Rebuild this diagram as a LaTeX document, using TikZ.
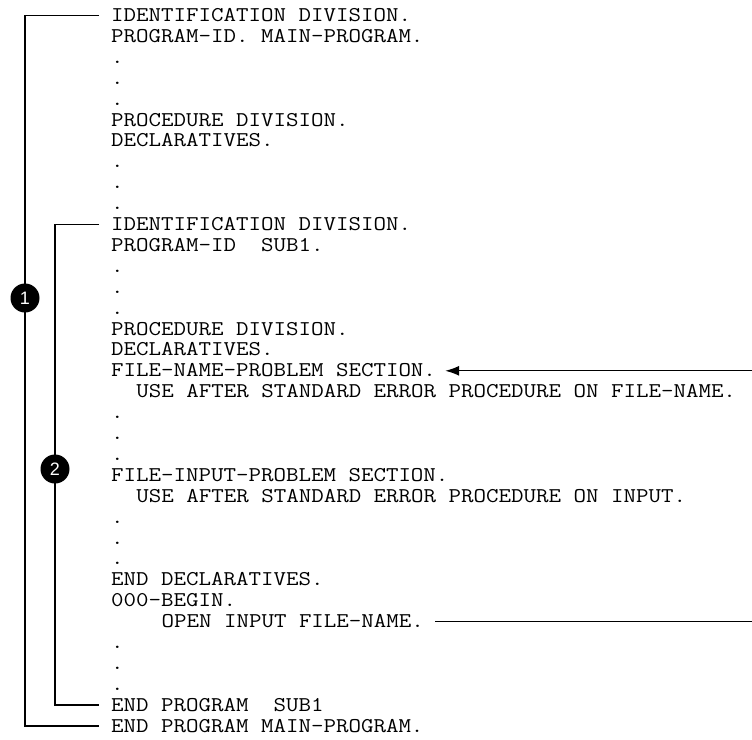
\documentclass[tikz,border=0pt]{standalone}
\usepackage{fontspec}
\newfontfamily\codefont{Latin Modern Mono}[FakeStretch=1.155]
\newfontfamily\markfont{Liberation Sans}
\usetikzlibrary{arrows.meta,positioning}

\begin{document}
\begin{tikzpicture}[
						x=1pt,
						y=-1pt,
						codeline/.style={anchor=west, inner sep=0pt, text height=12pt, text depth=0pt, font=\codefont\fontsize{21}{21}\selectfont},
						bracket/.style={line width=1.7pt},
						pointer/.style={line width=1.3pt},
						marker/.style={circle, fill=black, text=white, minimum size=29pt, inner sep=0pt, font=\markfont\fontsize{18}{18}\selectfont}
					]
					\useasboundingbox (0,0) rectangle (752,739);
					\coordinate (rim) at (752,0);
					\foreach \ind/\txt [count=\i] in {
							0/IDENTIFICATION DIVISION.,
							0/PROGRAM-ID. MAIN-PROGRAM.,
							0/., 0/., 0/.,
							0/PROCEDURE DIVISION.,
							0/DECLARATIVES.,
							0/., 0/., 0/.,
							0/IDENTIFICATION DIVISION.,
							0/PROGRAM-ID\ \ SUB1.,
							0/., 0/., 0/.,
							0/PROCEDURE DIVISION.,
							0/DECLARATIVES.,
							0/FILE-NAME-PROBLEM SECTION.,
							2/USE AFTER STANDARD ERROR PROCEDURE ON FILE-NAME.,
							0/., 0/., 0/.,
							0/FILE-INPUT-PROBLEM SECTION.,
							2/USE AFTER STANDARD ERROR PROCEDURE ON INPUT.,
							0/., 0/., 0/.,
							0/END DECLARATIVES.,
							0/000-BEGIN.,
							4/OPEN INPUT FILE-NAME.,
							0/., 0/., 0/.,
							0/END PROGRAM\ \ SUB1,
							0/END PROGRAM MAIN-PROGRAM.}
						\node[codeline] (l\i) at (111+12.6*\ind, 15.5+20.9*\i-20.9) {\txt};
					\draw[bracket] (l1.west) ++(-12,0) -- ++(-74,0) |- ([xshift=-12pt]l35.west);
					\draw[bracket] (l11.west) ++(-12,0) -- ++(-44,0) |- ([xshift=-12pt]l34.west);
					\node[marker] (m1) at (25,298) {1};
					\node[marker] (m2) at (55,469) {2};
					\draw[pointer, -{Latex[length=14pt,width=10pt]}] (l18.east -| rim) -- ([xshift=9pt]l18.east);
					\draw[pointer] ([xshift=11pt]l30.east) -- (l30.east -| rim);
				\end{tikzpicture}
\end{document}
